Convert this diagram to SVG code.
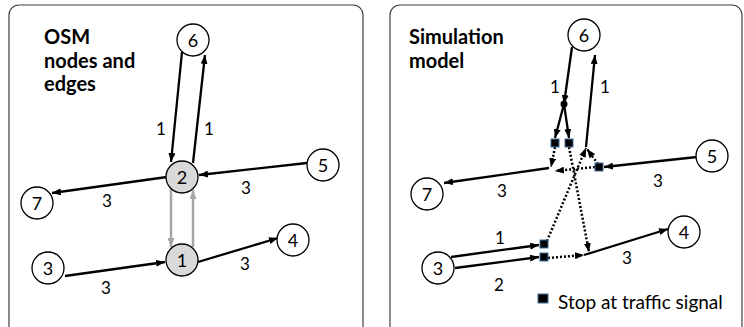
<svg xmlns="http://www.w3.org/2000/svg" width="744" height="327" viewBox="0 0 744 327">
<style>
.panel{fill:#fff;stroke:#404040;stroke-width:1.2}
.node{fill:#fff;stroke:#000;stroke-width:1.3}
.gnode{fill:#d9d9d9;stroke:#000;stroke-width:1.3}
.nl{font-family:Lato,"Open Sans",sans-serif;font-size:18px;text-anchor:middle;dominant-baseline:central;fill:#000}
.el{font-family:Lato,"Open Sans",sans-serif;font-size:17px;text-anchor:middle;dominant-baseline:central;fill:#000}
.title{font-family:Lato,"Open Sans",sans-serif;font-size:20px;font-weight:bold;fill:#000}
.leg{font-family:Lato,"Open Sans",sans-serif;font-size:19px;fill:#000}
.e{fill:none;stroke:#000;stroke-width:2.3;marker-end:url(#ah)}
.g{fill:none;stroke:#a6a6a6;stroke-width:2.5;marker-end:url(#gh)}
.d{fill:none;stroke:#000;stroke-width:2.5;stroke-dasharray:2 2;marker-end:url(#ah)}
.sq{fill:#000;stroke:#41719c;stroke-width:1}
</style>
<defs>
<marker id="ah" markerUnits="userSpaceOnUse" markerWidth="9" markerHeight="7" refX="9" refY="3.5" orient="auto"><path d="M0,0 L9,3.5 L0,7 z" fill="#000"/></marker>
<marker id="gh" markerUnits="userSpaceOnUse" markerWidth="9" markerHeight="7" refX="9" refY="3.5" orient="auto"><path d="M0,0 L9,3.5 L0,7 z" fill="#a6a6a6"/></marker>
</defs>
<rect class="panel" x="9" y="5" width="354" height="340" rx="10"/>
<rect class="panel" x="390" y="5" width="352" height="340" rx="10"/>
<text class="title" x="44" y="44">OSM</text>
<text class="title" x="44" y="68">nodes and</text>
<text class="title" x="44" y="91">edges</text>
<text class="title" x="409" y="44">Simulation</text>
<text class="title" x="409" y="68">model</text>
<g id="connectors">
<line class="e" x1="182" y1="52" x2="171" y2="162"/>
<line class="e" x1="193" y1="163" x2="205" y2="55"/>
<line class="e" x1="307" y1="163" x2="199" y2="175"/>
<line class="e" x1="167" y1="177" x2="52" y2="193"/>
<line class="g" x1="171" y1="188" x2="171" y2="247"/>
<line class="g" x1="193" y1="247" x2="193" y2="190"/>
<line class="e" x1="65" y1="276" x2="165" y2="262"/>
<line class="e" x1="198" y1="262" x2="278" y2="238"/>
<line class="e" x1="572" y1="47" x2="564" y2="104"/>
<line class="e" x1="564" y1="104" x2="555" y2="138"/>
<line class="e" x1="564" y1="104" x2="569" y2="138"/>
<line class="e" x1="586" y1="147" x2="595" y2="55"/>
<line class="e" x1="697" y1="157" x2="604" y2="167"/>
<line class="e" x1="549" y1="168" x2="444" y2="183"/>
<line class="e" x1="451" y1="257" x2="539" y2="245"/>
<line class="e" x1="455" y1="268" x2="539" y2="257"/>
<line class="e" x1="584" y1="255" x2="668" y2="229"/>
<line class="d" x1="555" y1="147" x2="551" y2="167"/>
<line class="d" x1="569" y1="147" x2="589" y2="252"/>
<line class="d" x1="595" y1="167" x2="555" y2="171"/>
<line class="d" x1="547" y1="241" x2="586" y2="148"/>
<line class="d" x1="598" y1="164" x2="587" y2="149"/>
<line class="d" x1="548" y1="258" x2="584" y2="255"/>
<circle cx="564" cy="104" r="3.5" fill="#000"/>
</g>
<g id="n6a"><circle class="node" cx="193" cy="40" r="16"/><text class="nl" x="193" y="40">6</text></g>
<g id="n2a"><circle class="gnode" cx="182" cy="177" r="16"/><text class="nl" x="182" y="177">2</text></g>
<g id="n5a"><circle class="node" cx="323" cy="165" r="16"/><text class="nl" x="323" y="165">5</text></g>
<g id="n7a"><circle class="node" cx="37" cy="203" r="16"/><text class="nl" x="37" y="203">7</text></g>
<g id="n1a"><circle class="gnode" cx="182" cy="260" r="16"/><text class="nl" x="182" y="260">1</text></g>
<g id="n3a"><circle class="node" cx="48" cy="268" r="16"/><text class="nl" x="48" y="268">3</text></g>
<g id="n4a"><circle class="node" cx="293" cy="240" r="16"/><text class="nl" x="293" y="240">4</text></g>
<g id="n6b"><circle class="node" cx="584" cy="35" r="16"/><text class="nl" x="584" y="35">6</text></g>
<g id="n5b"><circle class="node" cx="712" cy="156" r="16"/><text class="nl" x="712" y="156">5</text></g>
<g id="n7b"><circle class="node" cx="427" cy="194" r="16"/><text class="nl" x="427" y="194">7</text></g>
<g id="n3b"><circle class="node" cx="438" cy="268" r="16"/><text class="nl" x="438" y="268">3</text></g>
<g id="n4b"><circle class="node" cx="684" cy="232" r="16"/><text class="nl" x="684" y="232">4</text></g>
<g id="signals">
<rect class="sq" x="551" y="139" width="8" height="8"/>
<rect class="sq" x="565" y="139" width="8" height="8"/>
<rect class="sq" x="595" y="163" width="8" height="8"/>
<rect class="sq" x="540" y="240" width="8" height="8"/>
<rect class="sq" x="540" y="253" width="8" height="8"/>
</g>
<g id="labels">
<text class="el" x="161" y="128">1</text>
<text class="el" x="209" y="128">1</text>
<text class="el" x="246" y="187">3</text>
<text class="el" x="107" y="200">3</text>
<text class="el" x="245" y="263">3</text>
<text class="el" x="106" y="287">3</text>
<text class="el" x="555" y="86">1</text>
<text class="el" x="605" y="86">1</text>
<text class="el" x="658" y="180">3</text>
<text class="el" x="502" y="190">3</text>
<text class="el" x="627" y="257">3</text>
<text class="el" x="500" y="237">1</text>
<text class="el" x="499" y="284">2</text>
</g>
<g id="legend">
<rect class="sq" x="538" y="294" width="10" height="9"/>
<text class="leg" x="558" y="309">Stop at traffic signal</text>
</g>
</svg>
